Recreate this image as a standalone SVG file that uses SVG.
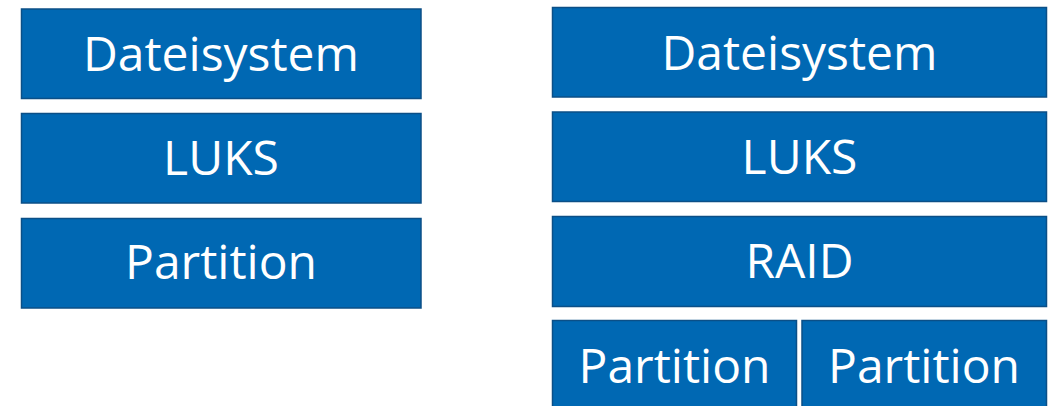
<svg xmlns="http://www.w3.org/2000/svg" width="1056" height="406" viewBox="0 0 1056 406">
  <style>
    .box { fill: #0068b3; stroke: #0b4f87; stroke-width: 1.5; }
    .lbl { fill: #ffffff; font-family: "Open Sans", "Noto Sans", sans-serif; font-size: 48px; text-anchor: middle; }
  </style>
  <rect width="1056" height="406" fill="#ffffff"/>
  <!-- Left stack: filesystem on LUKS on a plain partition -->
  <g id="left-dateisystem">
    <rect class="box" x="21.5" y="9" width="399.5" height="89.5"/>
    <text class="lbl" x="221" y="71">Dateisystem</text>
  </g>
  <g id="left-luks">
    <rect class="box" x="21.5" y="113.5" width="399.5" height="89.5"/>
    <text class="lbl" x="221" y="175">LUKS</text>
  </g>
  <g id="left-partition">
    <rect class="box" x="21.5" y="218.5" width="399.5" height="89.5"/>
    <text class="lbl" x="221" y="279">Partition</text>
  </g>
  <!-- Right stack: filesystem on LUKS on RAID over two partitions -->
  <g id="right-dateisystem">
    <rect class="box" x="552.5" y="7.5" width="494" height="89.5"/>
    <text class="lbl" x="799.5" y="70">Dateisystem</text>
  </g>
  <g id="right-luks">
    <rect class="box" x="552.5" y="112" width="494" height="89.5"/>
    <text class="lbl" x="799.5" y="174">LUKS</text>
  </g>
  <g id="right-raid">
    <rect class="box" x="552.5" y="216.5" width="494" height="90"/>
    <text class="lbl" x="799.5" y="278">RAID</text>
  </g>
  <g id="right-partition-1">
    <rect class="box" x="552.5" y="320.5" width="244" height="90"/>
    <text class="lbl" x="674.5" y="383">Partition</text>
  </g>
  <g id="right-partition-2">
    <rect class="box" x="802" y="320.5" width="244.5" height="90"/>
    <text class="lbl" x="924" y="383">Partition</text>
  </g>
  <g id="connectors"/>
</svg>
